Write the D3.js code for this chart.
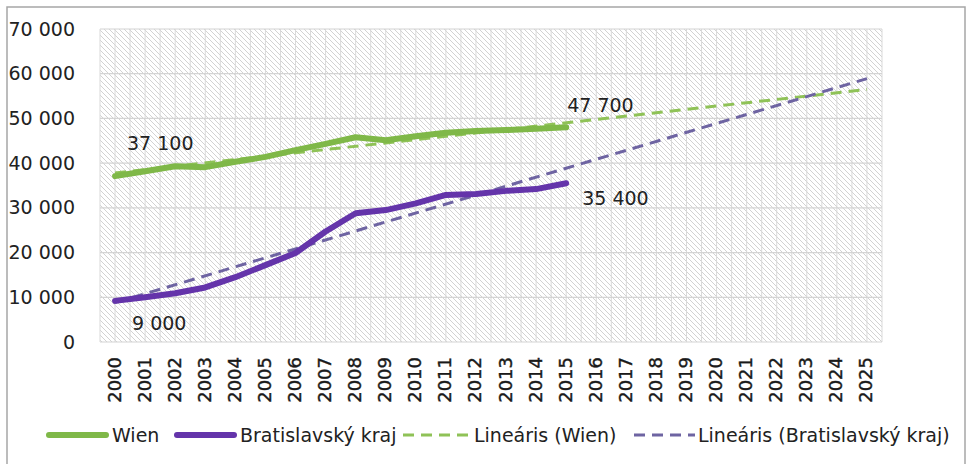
<!DOCTYPE html>
<html>
<head>
<meta charset="utf-8">
<script src="https://cdn.jsdelivr.net/npm/d3@7"></script>
<style>
  body { margin: 0; background: #fff; }
  svg { display: block; font-family: "DejaVu Sans", sans-serif; }
</style>
</head>
<body>
<svg id="chart" width="967" height="464"></svg>
<script>
'use strict'

// categories (Excel category axis)
const years = [2000, 2001, 2002, 2003, 2004, 2005, 2006, 2007, 2008, 2009, 2010, 2011, 2012,
  2013, 2014, 2015, 2016, 2017, 2018, 2019, 2020, 2021, 2022, 2023, 2024, 2025]
const dataYears = years.slice(0, 16)

// values
const wien = [37100, 38200, 39300, 39100, 40300, 41400, 42900, 44300, 45800, 45100, 46000,
  46800, 47200, 47400, 47700, 48000]
const bratislava = [9200, 10000, 10900, 12200, 14500, 17200, 19900, 24700, 28800, 29500, 31000,
  32900, 33100, 33800, 34200, 35500]

// linear trend lines, start and end (2000, 2025)
const trendYears = [2000, 2025]
const wienTrend = [37800, 56500]
const bratislavaTrend = [8800, 58900]

const yTicks = [0, 10000, 20000, 30000, 40000, 50000, 60000, 70000]

// data labels: [year, value, text]
const labels = [
  [2000, 37100, '37 100'],
  [2015, 47700, '47 700'],
  [2015, 35400, '35 400'],
  [2000, 9000, '9 000']
]

const green = '#7fb848',
  purple = '#6434aa',
  greenDash = '#8fc257',
  purpleDash = '#6e64a2'

const margin = { top: 29, right: 85, bottom: 122, left: 100 },
  W = 967,
  H = 464

const svg = d3.select('#chart')

// outer frame
svg.append('rect')
  .attr('x', 7).attr('y', 7)
  .attr('width', 958).attr('height', 470)
  .attr('fill', 'none')
  .attr('stroke', '#a6a6a6')
  .attr('stroke-width', 1.5)

const x = d3.scaleBand()
  .domain(years)
  .range([margin.left, W - margin.right])

const cx = d => x(d) + x.bandwidth() / 2

const y = d3.scaleLinear()
  .domain([0, 70000])
  .range([H - margin.bottom, margin.top])

// hatch pattern for the plot area
const defs = svg.append('defs')
const pat = defs.append('pattern')
  .attr('id', 'hatch')
  .attr('patternUnits', 'userSpaceOnUse')
  .attr('width', 5)
  .attr('height', 5)
pat.append('path')
  .attr('d', 'M-1,-1L6,6M-1,4L1,6M4,-1L6,1')
  .attr('stroke', '#d2d2d2')
  .attr('stroke-width', 1)

svg.append('rect')
  .attr('x', margin.left)
  .attr('y', margin.top)
  .attr('width', x.range()[1] - margin.left)
  .attr('height', y(0) - margin.top)
  .attr('fill', 'url(#hatch)')

// vertical lines at band edges and centres
const vLines = []
years.forEach(d => { vLines.push(x(d)); vLines.push(cx(d)) })
vLines.push(x.range()[1])
svg.append('g')
  .selectAll('line')
  .data(vLines)
  .join('line')
  .attr('x1', d => d).attr('x2', d => d)
  .attr('y1', margin.top).attr('y2', y(0))
  .attr('stroke', '#d9d9d9')
  .attr('stroke-width', 1)

// horizontal grid
svg.append('g')
  .selectAll('line')
  .data(yTicks)
  .join('line')
  .attr('x1', margin.left).attr('x2', x.range()[1])
  .attr('y1', d => y(d)).attr('y2', d => y(d))
  .attr('stroke', '#d4d4d4')
  .attr('stroke-width', 1.2)

// axes
const fmt = d => d3.format(',')(d).replace(/,/g, ' ')

const gY = svg.append('g')
  .attr('transform', `translate(${margin.left},0)`)
  .call(d3.axisLeft(y).tickValues(yTicks).tickFormat(fmt).tickSize(0).tickPadding(25))
gY.select('.domain').remove()
gY.selectAll('text')
  .style('font-size', '19px')
  .style('font-family', '"DejaVu Sans", sans-serif')
  .attr('fill', '#222')

const gX = svg.append('g')
  .attr('transform', `translate(0,${y(0)})`)
  .call(d3.axisBottom(x).tickSize(0))
gX.select('.domain').remove()
gX.selectAll('text')
  .attr('transform', 'rotate(-90)')
  .attr('x', -15)
  .attr('y', -1)
  .attr('dy', '0.36em')
  .style('text-anchor', 'end')
  .style('font-size', '18px')
  .style('font-family', '"DejaVu Sans", sans-serif')
  .attr('fill', '#1a1a1a')
  .attr('stroke', '#1a1a1a')
  .attr('stroke-width', 0.4)

// trend lines
const trendLine = d3.line()
  .x((d, i) => cx(trendYears[i]))
  .y(d => y(d))

svg.append('path')
  .datum(wienTrend)
  .attr('d', trendLine)
  .attr('fill', 'none')
  .attr('stroke', greenDash)
  .attr('stroke-width', 3)
  .attr('stroke-dasharray', '11,7')

svg.append('path')
  .datum(bratislavaTrend)
  .attr('d', trendLine)
  .attr('fill', 'none')
  .attr('stroke', purpleDash)
  .attr('stroke-width', 3)
  .attr('stroke-dasharray', '11,7')

// series
const line = d3.line()
  .x((d, i) => cx(dataYears[i]))
  .y(d => y(d))

;[[wien, green], [bratislava, purple]].forEach(([vals, col]) => {
  svg.append('path')
    .datum(vals)
    .attr('d', line)
    .attr('fill', 'none')
    .attr('stroke', col)
    .attr('stroke-width', 6)
    .attr('stroke-linejoin', 'round')
    .attr('stroke-linecap', 'round')
})

// data labels
const labelOffsets = [[12, -26], [1, -17], [16, 21], [17, 28]]
svg.append('g')
  .selectAll('text')
  .data(labels)
  .join('text')
  .attr('x', (d, i) => cx(d[0]) + labelOffsets[i][0])
  .attr('y', (d, i) => y(d[1]) + labelOffsets[i][1])
  .style('font-size', '19px')
  .attr('fill', '#222')
  .text(d => d[2])

// legend
const legendItems = [
  { name: 'Wien', color: green, width: 6, dash: null },
  { name: 'Bratislavský kraj', color: purple, width: 6, dash: null },
  { name: 'Lineáris (Wien)', color: greenDash, width: 3, dash: '11,7' },
  { name: 'Lineáris (Bratislavský kraj)', color: purpleDash, width: 3, dash: '11,7' }
]
const legendSampleX = [49, 177, 403, 634]
const legendTextX = [112, 240, 474, 698]

const legend = svg.append('g').attr('transform', 'translate(0,435)')
legendItems.forEach((item, i) => {
  legend.append('line')
    .attr('x1', legendSampleX[i]).attr('x2', legendTextX[i] - (item.dash ? 3 : 6))
    .attr('y1', 0).attr('y2', 0)
    .attr('stroke', item.color)
    .attr('stroke-width', item.width)
    .attr('stroke-linecap', item.dash ? 'butt' : 'round')
    .attr('stroke-dasharray', item.dash)
  legend.append('text')
    .attr('x', legendTextX[i])
    .attr('y', 0)
    .attr('dy', '0.35em')
    .style('font-size', '19px')
    .attr('fill', '#222')
    .text(item.name)
})
</script>
</body>
</html>
